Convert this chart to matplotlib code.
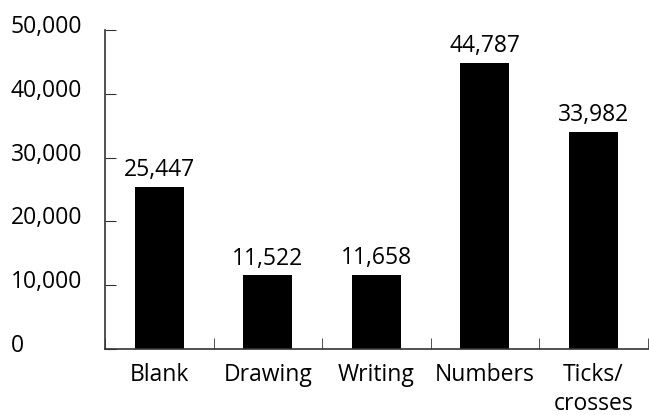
import matplotlib.pyplot as plt
import matplotlib.transforms as mtransforms
from matplotlib.ticker import FuncFormatter

categories = ["Blank", "Drawing", "Writing", "Numbers", "Ticks/\ncrosses"]
values = [25447, 11522, 11658, 44787, 33982]
yticks = [0, 10000, 20000, 30000, 40000, 50000]

plt.rcParams['font.family'] = ['Open Sans', 'DejaVu Sans']
plt.rcParams['font.size'] = 16.5

fig = plt.figure(figsize=(6.49, 4.15), dpi=100)
ax = fig.add_axes([0.1618, 0.159, 0.836, 0.769])

x = range(len(categories))
ax.bar(x, values, width=0.45, color='black')
for i, v in enumerate(values):
    ax.text(i, v + 750, f"{v:,}", ha='center', va='bottom', fontsize=16.5)

ax.set_xlim(-0.5, len(categories) - 0.5)
ax.set_ylim(0, 50000)
ax.set_yticks(yticks)
ax.yaxis.set_major_formatter(FuncFormatter(lambda v, p: f"{int(v):,}"))
ax.set_xticks(list(x))
ax.set_xticklabels(categories, linespacing=1.3)
ax.set_xticks([i - 0.5 for i in range(len(categories) + 1)], minor=True)

for s in ['top', 'right']:
    ax.spines[s].set_visible(False)
for s in ['left', 'bottom']:
    ax.spines[s].set_color('#333333')
    ax.spines[s].set_linewidth(1.2)

ax.tick_params(axis='y', direction='in', length=8, color='#333333', pad=68)
shift = mtransforms.ScaledTranslation(0, 6 / 100, fig.dpi_scale_trans)
for lab in ax.get_yticklabels():
    lab.set_ha('left')
    lab.set_transform(lab.get_transform() + shift)
ax.tick_params(axis='x', which='major', length=0, pad=10)
ax.tick_params(axis='x', which='minor', direction='in', length=8, color='#333333')

fig.savefig('out.png', dpi=100)
